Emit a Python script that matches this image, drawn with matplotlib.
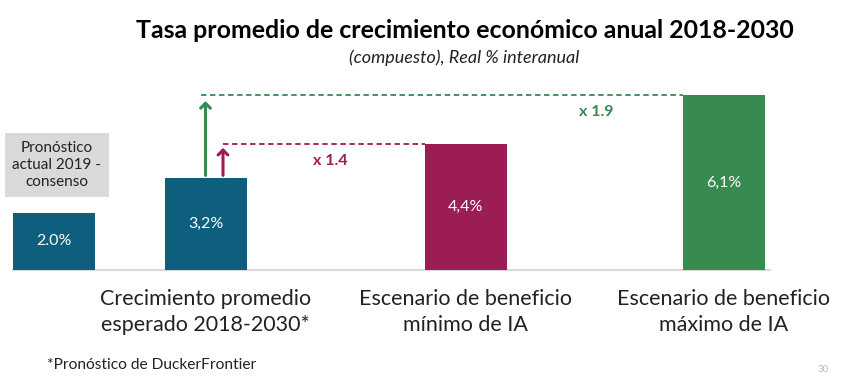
import matplotlib
matplotlib.use("Agg")
import matplotlib.pyplot as plt

plt.rcParams["font.family"] = ["Lato", "DejaVu Sans"]

# data
categories = ["Pronóstico actual 2019", "Crecimiento promedio\nesperado 2018-2030*",
              "Escenario de beneficio\nmínimo de IA", "Escenario de beneficio\nmáximo de IA"]
values = [2.0, 3.2, 4.4, 6.1]
value_labels = ["2.0%", "3,2%", "4,4%", "6,1%"]
multipliers = ["x 1.4", "x 1.9"]

# layout (pixel positions on an 858x377 canvas)
W, H = 858, 377
x_pos = [54, 205.5, 465.5, 723.5]
bar_w = 82
base_px = 270            # baseline, px from top
scale = 28.7             # px per % point
teal, crimson, green = "#0E5F7D", "#9C1C55", "#378A50"
colors = [teal, teal, crimson, green]

fig = plt.figure(figsize=(W / 100, H / 100), dpi=100)
ax = fig.add_axes([0, 0, 1, 1])
ax.set_xlim(0, W)
ax.set_ylim(-(H - base_px) / scale, base_px / scale)
ax.axis("off")

ax.bar(x_pos, values, bar_w, color=colors, zorder=2)
ax.plot([13, 770], [0, 0], color="#D9D9D9", lw=1.5, zorder=1)
for x, v, lab in zip(x_pos, values, value_labels):
    ax.text(x, v / 2, lab, ha="center", va="center", color="white", fontsize=11.5)

# category labels
for x, c in zip(x_pos[1:], categories[1:]):
    ax.text(x, -19 / scale, c, ha="center", va="top", fontsize=15.5, color="#222222",
            linespacing=1.4)

# gray box label for the first bar
fig.text(57 / W, 1 - 165 / H, "Pronóstico\nactual 2019 -\nconsenso", ha="center", va="center",
         fontsize=11, color="#222222", linespacing=1.3,
         bbox=dict(boxstyle="square,pad=0.5", facecolor="#D9D9D9", edgecolor="none"))

# multiplier arrows and dashed guides
ax.annotate("", xy=(x_pos[1] + 17.5, values[2] - 0.05), xytext=(x_pos[1] + 17.5, values[1]),
            arrowprops=dict(arrowstyle="->,head_width=0.35,head_length=0.35", color=crimson, lw=2.2),
            zorder=3)
ax.plot([x_pos[1] + 17.5, x_pos[2] - bar_w / 2], [values[2], values[2]], ls=(0, (3, 2)),
        color=crimson, lw=1.3)
ax.annotate("", xy=(x_pos[1], values[3] - 0.12), xytext=(x_pos[1], values[1]),
            arrowprops=dict(arrowstyle="->,head_width=0.35,head_length=0.35", color=green, lw=2.2),
            zorder=3)
ax.plot([x_pos[1] - 5, x_pos[3] - bar_w / 2], [values[3], values[3]], ls=(0, (3, 2)),
        color=green, lw=1.3)
ax.text(330, values[2] - 0.6, multipliers[0], ha="center", va="center", color=crimson,
        fontsize=11.5, fontweight="bold")
ax.text(596, values[3] - 0.6, multipliers[1], ha="center", va="center", color=green,
        fontsize=11.5, fontweight="bold")

# titles
fig.text(465 / W, 1 - 31 / H, "Tasa promedio de crecimiento económico anual 2018-2030",
         ha="center", va="center", fontsize=17.9, fontweight="bold", color="black")
fig.text(464 / W, 1 - 58 / H, "(compuesto), Real % interanual", ha="center", va="center",
         fontsize=13, style="italic", color="#222222")
fig.text(47 / W, 1 - 365 / H, "*Pronóstico de DuckerFrontier", ha="left", va="center",
         fontsize=11.2, color="#222222")
fig.text(818 / W, 1 - 369 / H, "30", ha="left", va="center", fontsize=7, color="#BBBBBB")

fig.savefig("out.png", dpi=100)
